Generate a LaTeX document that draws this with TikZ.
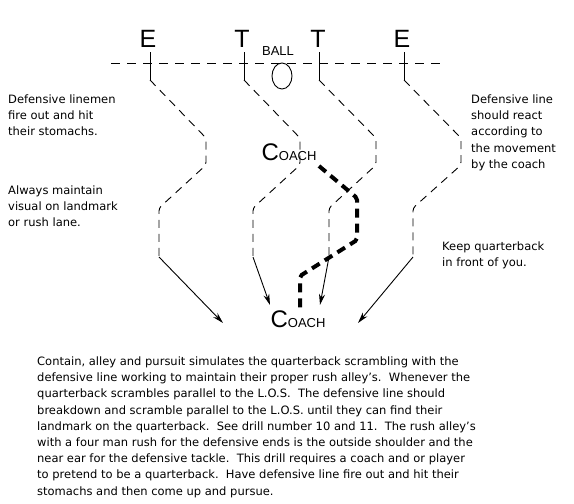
\documentclass[tikz,border=0pt]{standalone}
\usepackage{fontspec}
\setmainfont{DejaVu Sans}
\newfontfamily\labelfont{Liberation Sans}
\usetikzlibrary{arrows.meta}

\newcommand{\coachname}{{\fontsize{24}{24}\selectfont C}{\fontsize{13}{13}\selectfont OACH}}

\tikzset{
    los/.style={dash pattern=on 9pt off 7pt, line width=0.9pt},
    stem/.style={line width=0.9pt},
    rush/.style={dash pattern=on 8pt off 6pt, line width=0.9pt, rounded corners=3pt},
    finish/.style={line width=0.9pt, -{Stealth[length=11pt, width=6pt]}},
    scramble/.style={dash pattern=on 9pt off 6pt, line width=4pt, rounded corners=2pt},
    player/.style={font=\labelfont\fontsize{25}{25}\selectfont, inner sep=0pt},
    coach/.style={font=\labelfont, inner sep=0pt},
    note/.style={align=left, anchor=north west, inner sep=0pt, font=\fontsize{11.5}{16.2}\selectfont},
}

\begin{document}
\begin{tikzpicture}[x=1pt, y=-1pt]
    \useasboundingbox (0,0) rectangle (574,504);

    \coordinate (L1) at (111,63);
    \coordinate (L2) at (444,63);

    \coordinate (S1) at (150,52);
    \coordinate (K1) at (150,80);
    \coordinate (U1) at (206,138);
    \coordinate (V1) at (206,165);
    \coordinate (W1) at (159,208);
    \coordinate (X1) at (159,257);
    \coordinate (A1) at (223,323);

    \coordinate (S2) at (244,52);
    \coordinate (K2) at (244,80);
    \coordinate (U2) at (300,138);
    \coordinate (V2) at (300,165);
    \coordinate (W2) at (253,208);
    \coordinate (X2) at (253,257);
    \coordinate (A2) at (270,305);

    \coordinate (S3) at (319,52);
    \coordinate (K3) at (319,80);
    \coordinate (U3) at (376,138);
    \coordinate (V3) at (376,165);
    \coordinate (W3) at (329,208);
    \coordinate (X3) at (329,257);
    \coordinate (A3) at (320,305);

    \coordinate (S4) at (404,52);
    \coordinate (K4) at (404,80);
    \coordinate (U4) at (461,138);
    \coordinate (V4) at (461,165);
    \coordinate (W4) at (413,208);
    \coordinate (X4) at (413,257);
    \coordinate (A4) at (358,323);

    \coordinate (C1) at (319,166);
    \coordinate (C2) at (357,198);
    \coordinate (C3) at (357,240);
    \coordinate (C4) at (300,276);
    \coordinate (C5) at (300,308);

    \draw[los] (L1) -- (L2);
    \draw[stem] (282,76) ellipse (10 and 13);

    \draw[stem] (S1) -- (K1);
    \draw[rush] (K1) -- (U1) -- (V1) -- (W1) -- (X1);
    \draw[finish] (X1) -- (A1);

    \draw[stem] (S2) -- (K2);
    \draw[rush] (K2) -- (U2) -- (V2) -- (W2) -- (X2);
    \draw[finish] (X2) -- (A2);

    \draw[stem] (S3) -- (K3);
    \draw[rush] (K3) -- (U3) -- (V3) -- (W3) -- (X3);
    \draw[finish] (X3) -- (A3);

    \draw[stem] (S4) -- (K4);
    \draw[rush] (K4) -- (U4) -- (V4) -- (W4) -- (X4);
    \draw[finish] (X4) -- (A4);

    \draw[scramble] (C1) -- (C2) -- (C3) -- (C4) -- (C5);

    \node[player] (E1) at (148,39) {E};
    \node[player] (T1) at (242,39) {T};
    \node[player] (T2) at (318,39) {T};
    \node[player] (E2) at (402,39) {E};
    \node[coach, font=\labelfont\fontsize{13}{13}\selectfont] (ball) at (278,51) {BALL};
    \node[coach] (qb) at (289,152) {\coachname};
    \node[coach] (spot) at (298,319) {\coachname};

    \node[note] (fire) at (8,94.5) {Defensive linemen\\fire out and hit\\their stomachs.};
    \node[note] (visual) at (8,185.5) {Always maintain\\visual on landmark\\or rush lane.};
    \node[note] (react) at (471,94.5) {Defensive line\\should react\\according to\\the movement\\by the coach};
    \node[note] (front) at (442,241.5) {Keep quarterback\\in front of you.};
    \node[note] (drill) at (37,356.5) {Contain, alley and pursuit simulates the quarterback scrambling with the\\
        defensive line working to maintain their proper rush alley's.\ \ Whenever the\\
        quarterback scrambles parallel to the L.O.S.\ \ The defensive line should\\
        breakdown and scramble parallel to the L.O.S. until they can find their\\
        landmark on the quarterback.\ \ See drill number 10 and 11.\ \ The rush alley's\\
        with a four man rush for the defensive ends is the outside shoulder and the\\
        near ear for the defensive tackle.\ \ This drill requires a coach and or player\\
        to pretend to be a quarterback.\ \ Have defensive line fire out and hit their\\
        stomachs and then come up and pursue.};
\end{tikzpicture}
\end{document}
